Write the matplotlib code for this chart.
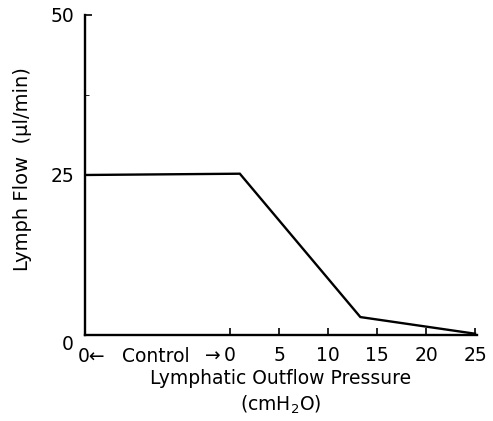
import matplotlib.pyplot as plt

# valores
pressure = [-14.8, 1.0, 13.3, 25.0]   # primeiro ponto = período controle
flow = [25.0, 25.2, 2.8, 0.2]
x_ticks = [0, 5, 10, 15, 20, 25]
y_ticks = [0, 25, 50]

plt.rcParams['font.family'] = ['DejaVu Sans']

fig = plt.figure(figsize=(4.93, 4.21), dpi=100)
ax = fig.add_axes([0.1724, 0.2043, 0.7951, 0.7601])

ax.plot(pressure, flow, color='black', linewidth=1.7, solid_joinstyle='miter')

ax.set_xlim(-14.8, 25.2)
ax.set_ylim(0, 50)
ax.set_xticks(x_ticks)
ax.set_xticklabels([str(t) for t in x_ticks])
ax.set_yticks(y_ticks)
ax.set_yticklabels(['0', '25', '50'])
ax.set_yticks([37.5], minor=True)

for s in ['top', 'right']:
    ax.spines[s].set_visible(False)
for s in ['left', 'bottom']:
    ax.spines[s].set_linewidth(1.7)

ax.tick_params(axis='both', direction='in', length=5, width=1.2, labelsize=13.5)
ax.tick_params(axis='x', pad=8)
ax.tick_params(axis='y', pad=8)
ax.tick_params(axis='y', which='minor', direction='in', length=3, width=0.6)

# rótulo "0" do eixo y um pouco mais baixo, como no original
ax.get_yticklabels()[0].set_verticalalignment('top')

# texto do período controle (mesma linha dos rótulos do eixo x)
xt = ax.get_xaxis_transform()
yrow = -0.037
ax.text(-15.5, yrow, '0\u2190', transform=xt, ha='left', va='top', fontsize=13.5)
ax.text(-7.6, yrow, 'Control', transform=xt, ha='center', va='top', fontsize=13.5)
ax.text(-1.0, yrow, '\u2192', transform=xt, ha='right', va='top', fontsize=13.5)

ax.set_xlabel('Lymphatic Outflow Pressure\n(cmH$_2$O)', fontsize=13.5, labelpad=3,
              linespacing=1.3)
ax.set_ylabel('Lymph Flow  (\u00b5l/min)', fontsize=14)
ax.yaxis.set_label_coords(-0.135, 0.52)

plt.savefig('out.png', dpi=100)
